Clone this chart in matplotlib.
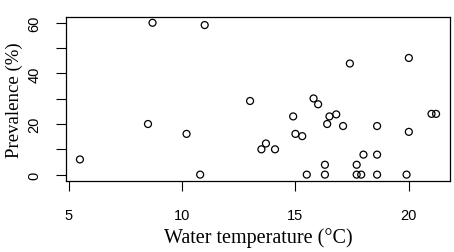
import matplotlib
matplotlib.use("Agg")
import matplotlib.pyplot as plt
import numpy as np

plt.rcParams['font.family'] = ['Liberation Sans', 'DejaVu Sans']

temperature = [5.5, 8.7, 8.5, 11.0, 10.2, 10.8,
               13.0, 13.5, 13.7, 14.1, 14.9, 15.0, 15.3, 15.5, 15.8, 16.0,
               16.3, 16.3, 16.4, 16.5, 16.8, 17.1, 17.4, 17.7, 17.7, 17.9,
               18.0, 18.6, 18.6, 18.6, 19.9, 20.0, 20.0, 21.0, 21.2]
prevalence = [6.0, 60.0, 20.0, 59.1, 16.1, 0.0,
              29.1, 10.0, 12.3, 10.0, 23.0, 16.1, 15.2, 0.0, 30.1, 27.8,
              3.9, 0.0, 20.0, 23.0, 23.8, 19.2, 43.9, 3.9, 0.0, 0.0,
              7.9, 19.2, 7.9, 0.0, 0.0, 46.1, 16.9, 24.0, 24.0]

x_ticks = [5, 10, 15, 20]
y_ticks = [0, 10, 20, 30, 40, 50, 60]
y_ticklabels = ["0", "", "20", "", "40", "", "60"]

fig = plt.figure(figsize=(4.54, 2.53), dpi=100)
ax = fig.add_axes([65.7/454, 1-181.7/253, (450.3-65.7)/454, (181.7-17.7)/253])

ax.scatter(temperature, prevalence, s=5.0**2, facecolors="none",
           edgecolors="black", linewidths=0.9)

xr = max(temperature) - min(temperature)
ax.set_xlim(min(temperature) - 0.04*xr, max(temperature) + 0.04*xr)
ax.set_ylim(-2.4, 62.4)

ax.set_xticks(x_ticks)
ax.set_xticklabels([str(t) for t in x_ticks], fontsize=10.5)
ax.set_yticks(y_ticks)
ax.set_yticklabels(y_ticklabels, fontsize=10.5, rotation=90, va="center")
ax.tick_params(length=7.5, width=0.8)
ax.tick_params(axis='x', pad=12)
ax.tick_params(axis='y', pad=10)

for s in ax.spines.values():
    s.set_linewidth(0.9)

ax.set_xlabel("Water temperature (°C)", fontfamily="Liberation Serif", fontsize=14.5, labelpad=4)
ax.set_ylabel("Prevalence (%)", fontfamily="Liberation Serif", fontsize=13.5, labelpad=3)

fig.savefig("out.png", dpi=100)
